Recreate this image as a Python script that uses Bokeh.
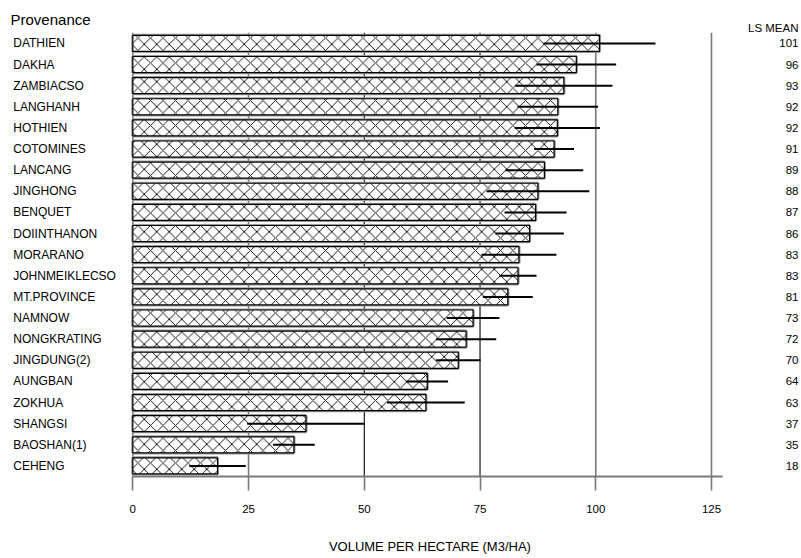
from bokeh.plotting import figure
from bokeh.models import Range1d, FixedTicker, Label, ColumnDataSource
from bokeh.core.properties import value
from bokeh.embed import file_html
from bokeh.resources import INLINE

provenances = ["DATHIEN", "DAKHA", "ZAMBIACSO", "LANGHANH", "HOTHIEN", "COTOMINES",
               "LANCANG", "JINGHONG", "BENQUET", "DOIINTHANON", "MORARANO",
               "JOHNMEIKLECSO", "MT.PROVINCE", "NAMNOW", "NONGKRATING", "JINGDUNG(2)",
               "AUNGBAN", "ZOKHUA", "SHANGSI", "BAOSHAN(1)", "CEHENG"]
ls_means = [100.8, 95.8, 93.1, 91.8, 91.7, 91.0, 88.9, 87.5, 87.0, 85.7, 83.4,
            83.2, 81.0, 73.5, 72.0, 70.3, 63.6, 63.3, 37.4, 34.8, 18.3]
std_err = [12.1, 8.6, 10.5, 8.7, 9.2, 4.3, 8.4, 11.1, 6.7, 7.4, 8.1,
           4.0, 5.4, 5.7, 6.5, 4.8, 4.5, 8.4, 12.7, 4.5, 6.1]
mean_labels = ["101", "96", "93", "92", "92", "91", "89", "88", "87", "86", "83",
               "83", "81", "73", "72", "70", "64", "63", "37", "35", "18"]
x_ticks = [0, 25, 50, 75, 100, 125]
gray_ticks = [0, 25, 100, 125]
black_ticks = [50, 75]
x_title = "VOLUME PER HECTARE (M3/HA)"

FONT = value("Liberation Sans")

n = len(provenances)
rows = list(range(n))
src = ColumnDataSource(dict(
    row=rows,
    name=provenances,
    mean=ls_means,
    lo=[m - s for m, s in zip(ls_means, std_err)],
    hi=[m + s for m, s in zip(ls_means, std_err)],
    lab=mean_labels,
    zero=[0] * n,
))

top_edge = -0.5
bottom_edge = n - 0.5

p = figure(width=801, height=558, output_backend="svg", toolbar_location=None,
           x_range=Range1d(-28.58, 144.44), y_range=Range1d(bottom_edge, -2.03),
           min_border_left=0, min_border_right=0, min_border_top=0,
           min_border_bottom=82)
p.outline_line_color = None
p.background_fill_color = "white"
p.border_fill_color = "white"
p.yaxis.visible = False
p.grid.visible = False

# vertical grid lines from the top of the bar area to the axis
p.segment(x0=gray_ticks, x1=gray_ticks, y0=[top_edge] * len(gray_ticks),
          y1=[bottom_edge] * len(gray_ticks), line_color="#7a7a7a", line_width=1.6)
p.segment(x0=black_ticks, x1=black_ticks, y0=[top_edge] * len(black_ticks),
          y1=[bottom_edge] * len(black_ticks), line_color="black", line_width=1.1)

ax = p.xaxis[0]
ax.ticker = FixedTicker(ticks=x_ticks)
ax.bounds = (0, 127.4)
ax.axis_line_color = "#7a7a7a"
ax.axis_line_width = 2
ax.major_tick_line_color = "#7a7a7a"
ax.major_tick_line_width = 1.6
ax.major_tick_out = 14
ax.major_tick_in = 0
ax.minor_tick_line_color = None
ax.major_label_standoff = 14
ax.major_label_text_font = "Liberation Sans"
ax.major_label_text_font_size = "11.5px"
ax.major_label_text_color = "black"
# the title sits right of the frame centre in the original; pad with no-break spaces
ax.axis_label = "\u00a0" * 16 + x_title
ax.axis_label_text_font = "Liberation Sans"
ax.axis_label_text_font_size = "13px"
ax.axis_label_text_font_style = "normal"
ax.axis_label_text_color = "black"
ax.axis_label_standoff = 23

# bars: soft gray shadow outline, then hatched bars
p.hbar(y="row", left=0, right="mean", height=0.76, source=src,
       fill_color="white", line_color="#9a9a9a", line_width=3.2)
p.hbar(y="row", left=0, right="mean", height=0.76, source=src,
       fill_color="white", line_color="black", line_width=1.2,
       hatch_pattern="diagonal_cross", hatch_color="black",
       hatch_scale=12.5, hatch_weight=0.9)

# error bars
p.segment(x0="lo", x1="hi", y0="row", y1="row", source=src,
          line_color="black", line_width=2)

# row labels (left) and LS mean values (right)
p.text(x="zero", y="row", text="name", source=src, x_offset=-119.6,
       text_align="left", text_baseline="middle", text_font=FONT,
       text_font_size="12px", text_color="black")
p.text(x="zero", y="row", text="lab", source=src, x_offset=665.7,
       text_align="right", text_baseline="middle", text_font=FONT,
       text_font_size="11.5px", text_color="black")

p.add_layout(Label(x=0, y=top_edge, x_offset=-122.3, y_offset=13, text="Provenance",
                   text_align="left", text_baseline="alphabetic",
                   text_font="Liberation Sans", text_font_size="15px",
                   text_color="black"))
p.add_layout(Label(x=0, y=top_edge, x_offset=665.7, y_offset=5, text="LS MEAN",
                   text_align="right", text_baseline="alphabetic",
                   text_font="Liberation Sans", text_font_size="11.5px",
                   text_color="black"))

open("out.html", "w").write(file_html(p, INLINE))
